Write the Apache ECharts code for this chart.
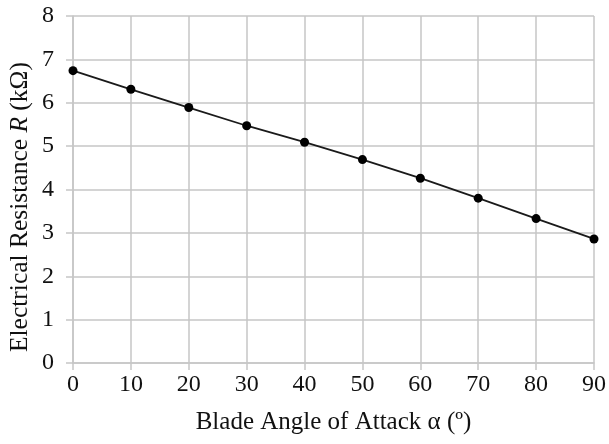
<!DOCTYPE html>
<html>
<head>
<meta charset="utf-8">
<script src="https://cdn.jsdelivr.net/npm/echarts@6/dist/echarts.min.js"></script>
<style>html,body{margin:0;padding:0;background:#fff}#c{width:609px;height:444px}</style>
</head>
<body>
<div id="c"></div>
<script>
const angles = [0, 10, 20, 30, 40, 50, 60, 70, 80, 90];
const resistance = [6.74, 6.31, 5.89, 5.47, 5.09, 4.69, 4.26, 3.80, 3.33, 2.86];
const xTitle = 'Blade Angle of Attack \u03b1 (\u00ba)';
const font = 'Liberation Serif';
const gridColor = '#c6c6c6';

const chart = echarts.init(document.getElementById('c'), null, {renderer: 'canvas'});
chart.setOption({
  animation: false,
  backgroundColor: '#fff',
  grid: {left: 73, right: 13, top: 16, bottom: 81, containLabel: false},
  xAxis: {
    type: 'value', min: 0, max: 90, interval: 10,
    name: xTitle, nameLocation: 'middle', nameGap: 47,
    nameTextStyle: {fontFamily: font, fontSize: 25, color: '#111'},
    axisLine: {show: true, lineStyle: {color: gridColor, width: 1.5}},
    axisTick: {show: true, length: 7, lineStyle: {color: gridColor, width: 1.5}},
    axisLabel: {fontFamily: font, fontSize: 24, color: '#111', margin: 10},
    splitLine: {show: true, lineStyle: {color: gridColor, width: 1.5}}
  },
  yAxis: {
    type: 'value', min: 0, max: 8, interval: 1,
    axisLine: {show: true, lineStyle: {color: gridColor, width: 1.5}},
    axisTick: {show: true, length: 7, lineStyle: {color: gridColor, width: 1.5}},
    axisLabel: {fontFamily: font, fontSize: 24, color: '#111', margin: 19},
    splitLine: {show: true, lineStyle: {color: gridColor, width: 1.5}}
  },
  graphic: [{
    type: 'text', x: 20, y: 207, rotation: Math.PI / 2,
    style: {
      text: '{a|Electrical Resistance }{i|R}{a| (k\u03a9)}',
      align: 'center', verticalAlign: 'middle',
      rich: {
        a: {fontFamily: font, fontSize: 25.5, fill: '#111'},
        i: {fontFamily: font, fontSize: 25.5, fontStyle: 'italic', fill: '#111'}
      }
    }
  }],
  series: [{
    type: 'line',
    data: angles.map((a, i) => [a, resistance[i]]),
    symbol: 'circle', symbolSize: 9,
    itemStyle: {color: '#000'},
    lineStyle: {color: '#1a1a1a', width: 1.8}
  }]
});
</script>
</body>
</html>
